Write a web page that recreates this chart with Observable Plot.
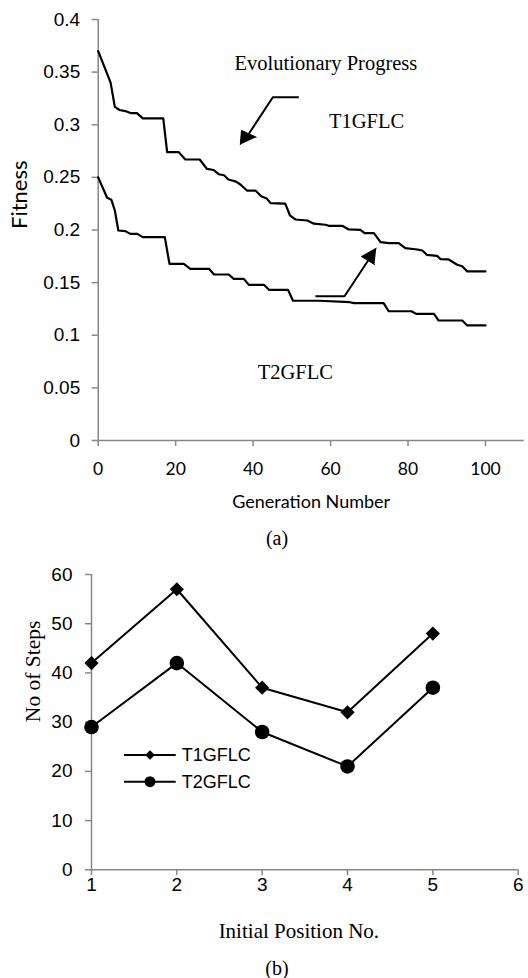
<!DOCTYPE html>
<html>
<head>
<meta charset="utf-8">
<script src="https://cdn.jsdelivr.net/npm/d3@7"></script>
<script src="https://cdn.jsdelivr.net/npm/@observablehq/plot@0.6"></script>
<style>
  html, body { margin: 0; padding: 0; background: #fff; }
  #page { position: relative; width: 528px; height: 978px; overflow: hidden; background: #fff; }
  .abs { position: absolute; }
  .cap { font-family: "Liberation Serif", serif; font-size: 20px; color: #000; transform: translate(-50%, -50%); white-space: nowrap; }
</style>
</head>
<body>
<div id="page">
  <div id="chartA" class="abs" style="left:0;top:0"></div>
  <div id="chartB" class="abs" style="left:0;top:550px"></div>
  <div id="legendB" class="abs" style="left:0;top:0"></div>
  <div class="abs cap" style="left:277px;top:538px">(a)</div>
  <div class="abs cap" style="left:277px;top:968px">(b)</div>
</div>
<script>
// ---------- Chart (a): fitness vs generation (polyline vertices) ----------
const t1Gen = [0,3.2,4.3,5.5,7,8.5,10,11.5,16.8,17.8,20.8,22.5,26.2,28.1,29.8,31.1,32.5,33.6,35.6,36.8,38.4,40.6,42.1,43.5,44.5,48.3,49.5,50.9,54,55.7,58.7,59.5,63,64.7,67.7,68.8,71.2,72.9,75,77.6,79.3,82.4,83.7,84.9,87.5,88.4,90.5,92.7,94,95.3,100];
const t1Fit = [0.370,0.340,0.317,0.314,0.313,0.311,0.311,0.306,0.306,0.274,0.274,0.267,0.267,0.258,0.257,0.253,0.252,0.248,0.246,0.243,0.2375,0.2375,0.232,0.230,0.2255,0.225,0.214,0.210,0.209,0.206,0.205,0.204,0.204,0.2005,0.2002,0.197,0.197,0.1884,0.1875,0.1875,0.1827,0.1815,0.1805,0.1764,0.1755,0.1723,0.172,0.167,0.1656,0.1606,0.1606];
const t2Gen = [0,2.3,3.4,4.3,5.2,7,8.3,10.1,11.5,17.2,18.4,22.1,23.8,28.6,29.9,33.7,35,37.6,38.9,42.8,44.1,49,50.3,57,65,66,73.7,75,80.9,82.1,86.7,87.9,94,95.3,100];
const t2Fit = [0.250,0.2306,0.2287,0.2185,0.1995,0.1989,0.1963,0.1963,0.1932,0.1932,0.1679,0.1679,0.1631,0.1631,0.1577,0.1577,0.1536,0.1536,0.1479,0.1479,0.1432,0.1432,0.1328,0.1328,0.1314,0.1305,0.1305,0.1228,0.1228,0.1203,0.1203,0.114,0.114,0.1093,0.1093];
const genTicks = [0,20,40,60,80,100];
const fitTicks = [0,0.05,0.1,0.15,0.2,0.25,0.3,0.35,0.4];
// annotations (a)
const notesA = [
  {g: 58.8, f: 0.358, label: "Evolutionary Progress"},
  {g: 69.3, f: 0.303, label: "T1GFLC"},
  {g: 50.9, f: 0.0646, label: "T2GFLC"}
];
const arrow1Shaft = [[51.8,0.3262],[45.1,0.3262],[38.9,0.2914]];
const arrow1Head  = [[36.7,0.2812],[37.0,0.2946],[40.8,0.2882]];
const arrow2Shaft = [[56.1,0.1371],[63.6,0.1371],[69.7,0.171]];
const arrow2Head  = [[71.8,0.1827],[67.98,0.1748],[71.34,0.1672]];

// ---------- Chart (b): steps vs initial position ----------
const positions = [1,2,3,4,5];
const t1Steps = [42,57,37,32,48];
const t2Steps = [29,42,28,21,37];
const posTicks = [1,2,3,4,5,6];
const stepTicks = [0,10,20,30,40,50,60];
const seriesNames = ["T1GFLC","T2GFLC"];

const AX = "#878787";
const SANS = "Liberation Sans, Arial, sans-serif";
const SERIF = "Liberation Serif, Times New Roman, serif";

const rowsT1 = t1Gen.map((g,i) => ({g, f: t1Fit[i]}));
const rowsT2 = t2Gen.map((g,i) => ({g, f: t2Fit[i]}));
const pts = a => a.map(([g,f]) => ({g, f}));

const chartA = Plot.plot({
  width: 528, height: 520,
  marginTop: 19, marginBottom: 80, marginLeft: 97.7, marginRight: 4.3,
  x: {domain: [0,110]},
  y: {domain: [0,0.4]},
  style: {fontFamily: SANS, fontSize: "19px", color: "#000", background: "transparent", overflow: "visible"},
  marks: [
    Plot.ruleX([0], {y1: 0, y2: 0.4, stroke: AX, strokeWidth: 1.5}),
    Plot.ruleY([0], {x1: 0, x2: 110, stroke: AX, strokeWidth: 1.5}),
    Plot.axisY({ticks: fitTicks, tickSize: 6, tickPadding: 12, stroke: AX, strokeWidth: 1.5, label: null, tickFormat: d => String(d), fontSize: 19, fontFamily: SANS}),
    Plot.axisX({ticks: genTicks, tickSize: 6, tickPadding: 16, stroke: AX, strokeWidth: 1.5, label: null, tickFormat: d => String(d), fontSize: 17.5, fontFamily: "Lato"}),
    Plot.line(rowsT1, {x: "g", y: "f", stroke: "#000", strokeWidth: 2.2}),
    Plot.line(rowsT2, {x: "g", y: "f", stroke: "#000", strokeWidth: 2.2}),
    Plot.line(pts(arrow1Shaft), {x: "g", y: "f", stroke: "#000", strokeWidth: 2, strokeLinecap: "butt"}),
    Plot.line(pts(arrow1Head), {x: "g", y: "f", stroke: "#000", fill: "#000", strokeWidth: 1}),
    Plot.line(pts(arrow2Shaft), {x: "g", y: "f", stroke: "#000", strokeWidth: 2, strokeLinecap: "butt"}),
    Plot.line(pts(arrow2Head), {x: "g", y: "f", stroke: "#000", fill: "#000", strokeWidth: 1}),
    Plot.text(notesA, {x: "g", y: "f", text: "label", fontFamily: SERIF, fontSize: 20.5, textAnchor: "middle", lineAnchor: "middle", fill: "#000"}),
    Plot.text(["Fitness"], {text: d => d, frameAnchor: "left", dx: -78, dy: -1, rotate: -90, fontFamily: "Lato", fontSize: 22, fill: "#000"}),
    Plot.text(["Generation Number"], {text: d => d, frameAnchor: "bottom", dy: 62, dx: 0, fontFamily: "Lato", fontSize: 18, lineAnchor: "middle", fill: "#000"})
  ]
});
document.getElementById("chartA").append(chartA);

const rowsB = [];
positions.forEach((p,i) => { rowsB.push({p, s: t1Steps[i], k: seriesNames[0]}); });
positions.forEach((p,i) => { rowsB.push({p, s: t2Steps[i], k: seriesNames[1]}); });

const chartB = Plot.plot({
  width: 528, height: 400,
  marginTop: 24, marginBottom: 80.7, marginLeft: 91, marginRight: 10.3,
  x: {domain: [1,6]},
  y: {domain: [0,60]},
  style: {fontFamily: SANS, fontSize: "19px", color: "#000", background: "transparent", overflow: "visible"},
  marks: [
    Plot.ruleX([1], {y1: 0, y2: 60, stroke: AX, strokeWidth: 1.5}),
    Plot.ruleY([0], {x1: 1, x2: 6, stroke: AX, strokeWidth: 1.5}),
    Plot.axisY({ticks: stepTicks, tickSize: 6, tickPadding: 13, stroke: AX, strokeWidth: 1.5, label: null, tickFormat: d => String(d), fontSize: 19, fontFamily: SANS}),
    Plot.axisX({ticks: posTicks, tickSize: 6, tickPadding: 2, stroke: AX, strokeWidth: 1.5, label: null, tickFormat: d => String(d), fontSize: 19, fontFamily: SANS}),
    Plot.line(rowsB, {x: "p", y: "s", z: "k", stroke: "#000", strokeWidth: 2}),
    Plot.dot(rowsB.filter(d => d.k === seriesNames[0]), {x: "p", y: "s", symbol: "diamond2", r: 6.4, fill: "#000", stroke: "none"}),
    Plot.dot(rowsB.filter(d => d.k === seriesNames[1]), {x: "p", y: "s", symbol: "circle", r: 7.3, fill: "#000", stroke: "none"}),
    Plot.text(["No of Steps"], {text: d => d, frameAnchor: "left", dx: -58, dy: 0, rotate: -90, fontFamily: SERIF, fontSize: 21.5, fill: "#000"}),
    Plot.text(["Initial Position No."], {text: d => d, frameAnchor: "bottom", dy: 61.4, dx: -6, fontFamily: SERIF, fontSize: 21, lineAnchor: "middle", fill: "#000"})
  ]
});
document.getElementById("chartB").append(chartB);

// ---------- Legend for (b) ----------
const lg = d3.create("svg").attr("width", 260).attr("height", 60)
  .style("position", "absolute").style("left", "110px").style("top", "735px").style("overflow", "visible");
seriesNames.forEach((name, i) => {
  const g = lg.append("g").attr("transform", `translate(0, ${20 + i * 26.7})`);
  g.append("line").attr("x1", 14).attr("x2", 65.7).attr("y1", 0).attr("y2", 0).attr("stroke", "#000").attr("stroke-width", 2);
  if (i === 0) {
    g.append("path").attr("d", d3.symbol(d3.symbolDiamond2, 60)()).attr("transform", "translate(40,0)").attr("fill", "#000");
  } else {
    g.append("circle").attr("cx", 40).attr("cy", 0).attr("r", 5.5).attr("fill", "#000");
  }
  g.append("text").attr("x", 71.7).attr("y", 0).attr("dy", "0.35em").attr("font-family", SANS).attr("font-size", 18).attr("fill", "#000").text(name);
});
document.getElementById("legendB").append(lg.node());
</script>
</body>
</html>
